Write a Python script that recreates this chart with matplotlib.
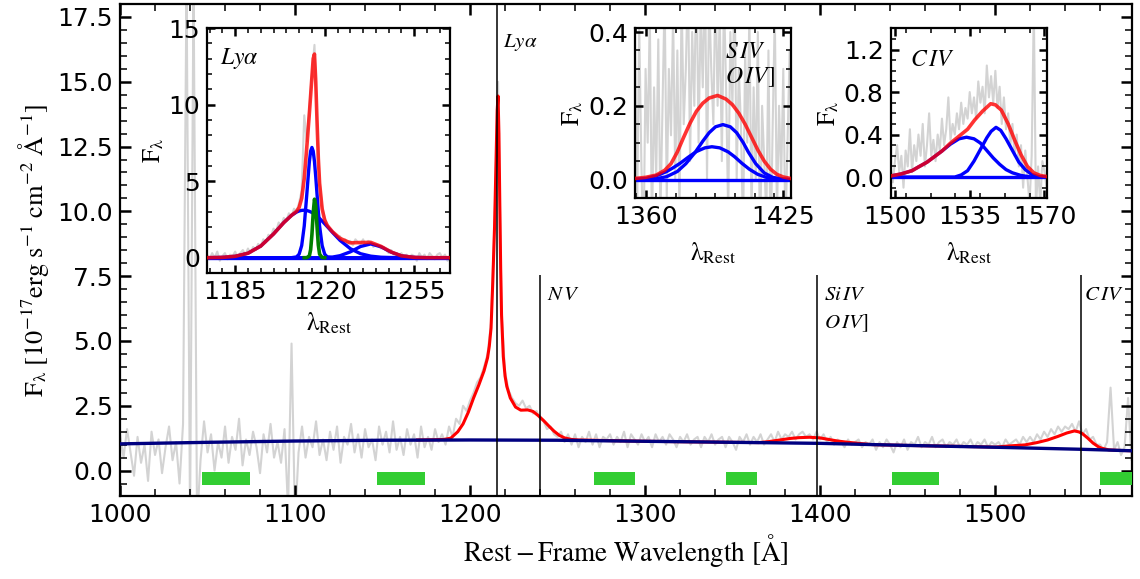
import numpy as np
import matplotlib
matplotlib.use("Agg")
import matplotlib.pyplot as plt
from matplotlib.ticker import MultipleLocator

plt.rcParams['mathtext.fontset'] = 'stix'
plt.rcParams['font.family'] = ['DejaVu Sans']

# ---------------- main spectrum (2 A sampling, 1000-1580 A) ----------------
spec_start, spec_step = 1000.0, 2.0
spec_flux = [
    1.4, 0.5, 1.6, 0.7, -0.2, 1.3, 0.3, 1.0, -0.4, 1.5,
    0.6, 1.2, -0.1, 0.9, 1.7, 0.4, 1.1, -0.5, 1.8, 19.0,
    -2.0, 19.0, -2.0, 0.4, 1.9, 0.7, 1.4, 0.0, 1.1, 0.5,
    1.7, 0.3, 1.3, 0.8, 2.0, 0.2, 1.2, 0.6, 1.5, 0.9,
    -0.1, 1.4, 0.7, 1.8, 0.5, 1.1, 0.3, 1.6, -1.5, 4.9,
    -2.0, 0.7, 1.7, 0.5, 1.3, 0.9, 1.9, 0.6, 1.2, 0.4,
    1.5, 0.8, 1.7, 0.3, 1.3, 1.0, 1.8, 0.7, 1.4, 0.5,
    1.6, 0.9, 1.2, 0.4, 1.7, 1.0, 1.5, 0.7, 1.9, 0.8,
    1.3, 0.6, 1.6, 1.0, 1.4, 0.5, 1.7, 0.9, 1.3, 0.8,
    1.6, 1.1, 1.4, 1.0, 1.7, 1.3, 2.0, 1.8, 2.5, 2.3,
    2.7, 3.0, 3.4, 3.6, 4.0, 4.5, 5.7, 9.6, 15.0, 6.1,
    3.8, 3.1, 2.8, 2.6, 2.5, 2.7, 2.4, 2.5, 2.2, 2.3,
    2.0, 1.9, 1.6, 1.7, 1.4, 1.3, 1.5, 1.1, 1.4, 1.0,
    1.4, 0.9, 1.3, 1.1, 1.5, 1.0, 1.4, 0.9, 1.3, 1.2,
    1.4, 1.0, 1.3, 1.1, 1.5, 0.9, 1.4, 1.2, 1.0, 1.4,
    1.1, 1.3, 0.9, 1.4, 1.1, 1.3, 1.0, 1.4, 1.2, 0.9,
    1.3, 1.1, 1.4, 1.0, 1.2, 1.3, 0.9, 1.3, 1.1, 1.4,
    1.0, 1.2, 1.3, 0.9, 1.3, 1.1, 0.8, 1.3, 1.1, 1.4,
    1.0, 1.3, 1.1, 1.4, 1.0, 1.2, 1.4, 1.1, 1.5, 1.2,
    1.4, 1.3, 1.5, 1.2, 1.4, 1.5, 1.3, 1.4, 1.2, 1.5,
    1.2, 1.4, 1.1, 1.3, 1.0, 1.2, 1.1, 0.9, 1.2, 1.0,
    1.1, 1.2, 0.9, 1.1, 1.0, 1.2, 0.8, 1.1, 0.9, 1.2,
    1.0, 0.7, 1.1, 0.9, 1.2, 0.8, 1.1, 1.0, 1.3, 0.9,
    1.1, 1.0, 1.3, 0.9, 1.1, 1.2, 0.9, 1.1, 1.0, 1.2,
    0.9, 1.1, 1.0, 1.2, 0.9, 1.1, 1.0, 1.2, 0.9, 1.1,
    1.0, 1.1, 0.9, 1.2, 1.0, 1.1, 1.2, 1.0, 1.3, 1.1,
    1.3, 1.1, 1.4, 1.2, 1.5, 1.3, 1.6, 1.4, 1.7, 1.5,
    1.7, 1.6, 1.8, 1.5, 1.9, 1.4, 1.6, 1.2, 1.3, 1.0,
    1.0, 0.8, 1.1, 3.2, 0.8, 1.1, 0.6, 0.9, 2.8, 0.4,
    0.6,
]

# power-law continuum
cont_wave = [1000, 1050, 1100, 1150, 1200, 1250, 1300, 1350, 1400, 1450, 1500, 1550, 1580]
cont_flux = [1.03, 1.09, 1.14, 1.17, 1.18, 1.17, 1.13, 1.09, 1.05, 0.97, 0.90, 0.82, 0.76]

# total model (continuum + emission lines)
model_wave = [1170, 1180, 1185, 1189, 1193, 1196, 1199, 1202, 1205, 1208, 1210, 1211, 1212,
              1213, 1214, 1214.5, 1215, 1215.5, 1216, 1216.5, 1217, 1217.5, 1218, 1219, 1220,
              1221, 1223, 1226, 1229, 1233, 1236, 1239, 1242, 1245, 1248, 1251, 1254, 1258,
              1262, 1300, 1350, 1365, 1371, 1377, 1383, 1388, 1394, 1400, 1405, 1410, 1416,
              1422, 1430, 1450, 1490, 1500, 1508, 1517, 1524, 1530, 1536, 1541, 1545.4, 1548,
              1550, 1553, 1556, 1559, 1561, 1565, 1570, 1580]
model_flux = [1.18, 1.19, 1.20, 1.25, 1.50, 1.80, 2.25, 2.80, 3.30, 3.85, 4.35, 4.80, 5.50,
              7.30, 9.40, 10.9, 12.4, 13.9, 14.45, 13.0, 10.3, 7.8, 6.0, 4.4, 3.65,
              3.25, 2.80, 2.45, 2.33, 2.34, 2.28, 2.12, 1.93, 1.72, 1.52, 1.36, 1.26, 1.20,
              1.18, 1.13, 1.09, 1.08, 1.12, 1.18, 1.24, 1.27, 1.285, 1.26, 1.20, 1.14, 1.09,
              1.05, 1.00, 0.97, 0.92, 0.905, 0.95, 0.99, 1.08, 1.18, 1.32, 1.45, 1.53, 1.49,
              1.42, 1.25, 1.06, 0.92, 0.86, 0.80, 0.78, 0.76]

# continuum windows (green bars)
win_start = [1047, 1147, 1271, 1346, 1441, 1560]
win_end = [1074.5, 1174, 1294, 1364, 1468, 1580]

# line markers
line_names = [r'$Ly\alpha$', r'$N\,V$', r'$Si\,IV$', r'$C\,IV$']
line_wave = [1215.67, 1240.14, 1398.0, 1549.06]

# ---------------- Ly-alpha inset ----------------
lya_start = 1174.0
lya_spec = [
    0.2, -0.1, 0.3, 0.0, 0.4, -0.2, 0.1, 0.3, -0.1, 0.2,
    0.1, 0.4, 0.0, 0.3, 0.5, 0.2, 0.6, 0.3, 0.7, 0.5,
    0.9, 0.7, 1.2, 1.0, 1.5, 1.4, 1.9, 1.7, 2.3, 2.1,
    2.6, 2.4, 2.9, 2.7, 3.2, 3.0, 3.6, 4.4, 9.3, 7.6,
    9.8, 12.0, 13.9, 9.0, 5.0, 3.3, 2.6, 2.2, 1.9, 1.7,
    1.5, 1.3, 1.4, 1.1, 1.2, 0.9, 1.1, 0.8, 1.2, 1.0,
    0.9, 1.2, 0.8, 1.1, 1.0, 0.7, 0.9, 0.8, 0.6, 0.7,
    0.5, 0.3, 0.5, 0.2, 0.3, 0.1, 0.3, 0.0, 0.2, -0.1,
    0.2, 0.1, -0.2, 0.3, 0.0, 0.2, -0.1, 0.3, 0.1, -0.1,
    0.2, 0.3, 0.0, 0.2, -0.2, 0.1,
]
lya_wave = [1174, 1180, 1185, 1190, 1195, 1200, 1204, 1207, 1209, 1210, 1211, 1212, 1213,
            1214, 1214.5, 1215, 1215.5, 1216, 1216.5, 1217, 1217.5, 1218, 1219, 1220, 1221,
            1223, 1226, 1230, 1234, 1238, 1242, 1246, 1250, 1255, 1260, 1269]
lya_broad = [0.00, 0.02, 0.09, 0.29, 0.76, 1.55, 2.29, 2.76, 2.98, 3.05, 3.09, 3.10, 3.08,
             3.03, 2.99, 2.95, 2.90, 2.84, 2.78, 2.71, 2.64, 2.56, 2.39, 2.21, 2.03,
             1.66, 1.13, 0.59, 0.26, 0.10, 0.03, 0.01, 0.00, 0.00, 0.00, 0.00]
lya_narrow = [0.00, 0.00, 0.00, 0.00, 0.00, 0.00, 0.00, 0.00, 0.05, 0.23, 0.79, 2.07, 4.14,
              6.27, 6.96, 7.20, 6.96, 6.27, 5.27, 4.14, 3.03, 2.07, 0.79, 0.23, 0.05,
              0.00, 0.00, 0.00, 0.00, 0.00, 0.00, 0.00, 0.00, 0.00, 0.00, 0.00]
lya_nv = [0.00, 0.00, 0.00, 0.00, 0.00, 0.00, 0.00, 0.00, 0.00, 0.00, 0.00, 0.00, 0.00,
          0.00, 0.00, 0.00, 0.00, 0.00, 0.00, 0.00, 0.00, 0.00, 0.00, 0.01, 0.02,
          0.04, 0.13, 0.38, 0.73, 0.90, 0.71, 0.36, 0.12, 0.02, 0.00, 0.00]
lya_total = [0.00, 0.02, 0.09, 0.29, 0.76, 1.55, 2.29, 2.76, 3.03, 3.28, 3.88, 5.17, 7.22,
             9.42, 10.6, 11.8, 13.0, 13.3, 11.5, 8.9, 6.5, 4.86, 3.19, 2.45, 2.10,
             1.70, 1.26, 0.97, 0.99, 1.00, 0.74, 0.37, 0.12, 0.02, 0.00, 0.00]
lya_nar_wave = [1212, 1213, 1214, 1214.5, 1215, 1215.5, 1216, 1216.5, 1217, 1217.5, 1218, 1219, 1220]
lya_nar_flux = [0.00, 0.00, 0.12, 0.52, 1.50, 2.91, 3.82, 3.40, 2.04, 0.83, 0.23, 0.01, 0.00]

# ---------------- Si IV / O IV] inset ----------------
siv_start = 1355.0
siv_spec = [
    0.35, -0.1, 0.42, 0.05, -0.2, 0.3, 0.1, 0.45, -0.15, 0.25,
    0.0, 0.38, -0.1, 0.2, 0.5, -0.05, 0.3, 0.12, 0.45, 0.0,
    0.35, -0.1, 0.5, 0.15, 0.3, 0.55, 0.05, 0.4, 0.2, 0.6,
    0.1, 0.45, 0.25, 0.6, 0.0, 0.5, 0.3, 0.15, 0.55, 0.2,
    0.45, 0.05, 0.5, 0.25, -0.1, 0.4, 0.2, 0.55, 0.0, 0.3,
    0.15, -0.15, 0.35, 0.1, 0.45, -0.1, 0.25, 0.0, 0.4, -0.2,
    0.2, 0.05, -0.1, 0.35, -0.2, 0.15, 0.45, -0.1, 0.2, 0.0,
    0.3, -0.15, 0.1, 0.35,
]
siv_tot_wave = [1355, 1360, 1365, 1369, 1372, 1375, 1378, 1381, 1384, 1387, 1390, 1394, 1398,
                1401, 1404, 1407, 1410, 1413, 1416, 1419, 1422, 1425, 1428.5]
siv_tot_flux = [0.003, 0.006, 0.012, 0.025, 0.043, 0.075, 0.115, 0.153, 0.185, 0.207, 0.221,
                0.228, 0.218, 0.203, 0.180, 0.150, 0.115, 0.080, 0.050, 0.028, 0.014, 0.007, 0.003]
siv_c1_wave = [1355, 1365, 1370, 1375, 1379, 1383.5, 1387, 1390, 1393, 1396.5, 1400, 1403,
               1406, 1408.5, 1412, 1416, 1420, 1425, 1428.5]
siv_c1_flux = [0.0, 0.002, 0.008, 0.022, 0.043, 0.0745, 0.104, 0.127, 0.143, 0.149, 0.143,
               0.127, 0.101, 0.0745, 0.043, 0.018, 0.006, 0.001, 0.0]
siv_c2_wave = [1355, 1360, 1365, 1370, 1373, 1376.4, 1380, 1384, 1388, 1391.3, 1395, 1399,
               1402, 1405.4, 1409, 1413, 1417, 1422, 1428.5]
siv_c2_flux = [0.001, 0.003, 0.010, 0.022, 0.032, 0.0445, 0.060, 0.076, 0.086, 0.089, 0.086,
               0.075, 0.062, 0.0445, 0.028, 0.014, 0.006, 0.002, 0.0]

# ---------------- C IV inset ----------------
civ_start = 1498.0
civ_spec = [
    0.1, -0.05, 0.15, 0.3, 0.05, 0.2, -0.1, 0.25, 0.1, 0.45,
    0.05, 0.3, 0.15, 0.4, 0.2, 0.5, 0.1, 0.3, 0.6, 0.2,
    0.35, 0.15, 0.4, 0.25, 0.55, 0.3, 0.45, 0.75, 0.35, 0.5,
    0.4, 0.6, 0.45, 0.7, 0.5, 0.65, 0.55, 0.8, 0.6, 0.75,
    0.55, 0.9, 0.7, 0.85, 0.6, 1.05, 0.75, 0.95, 0.7, 1.0,
    0.65, 0.85, 0.5, 0.75, 0.45, 0.6, 0.3, 0.5, 0.2, 0.4,
    0.1, 0.3, -0.1, 0.25, 0.0, -0.25, 0.2, 1.6, -0.3, 0.1,
    -0.25, 0.15, 0.05, -0.1,
]
civ_tot_wave = [1498, 1503, 1508, 1511, 1515, 1519, 1522, 1526, 1530, 1534, 1537.3, 1541,
                1544.8, 1547, 1549.8, 1553, 1556, 1559, 1562, 1565, 1568, 1571]
civ_tot_flux = [0.01, 0.03, 0.06, 0.095, 0.14, 0.20, 0.245, 0.32, 0.385, 0.45, 0.537, 0.62,
                0.69, 0.68, 0.63, 0.50, 0.35, 0.21, 0.10, 0.04, 0.015, 0.005]
civ_c1_wave = [1498, 1503, 1508, 1511, 1515, 1519, 1522, 1526, 1530, 1533.5, 1537, 1540,
               1543, 1546, 1549, 1552, 1555, 1559, 1564, 1571]
civ_c1_flux = [0.01, 0.03, 0.06, 0.095, 0.14, 0.20, 0.245, 0.31, 0.36, 0.375, 0.36, 0.32,
               0.25, 0.18, 0.12, 0.07, 0.04, 0.015, 0.0, 0.0]
civ_c2_wave = [1498, 1528, 1531, 1534, 1537, 1540, 1543, 1545, 1547.3, 1549.5, 1552, 1555,
               1558, 1561, 1564, 1567, 1571]
civ_c2_flux = [0.0, 0.0, 0.02, 0.06, 0.15, 0.26, 0.37, 0.43, 0.468, 0.44, 0.36, 0.25,
               0.14, 0.07, 0.025, 0.005, 0.0]


def style_axes(a, fs=18, maj_len=7.0, min_len=4.0):
    a.tick_params(which='both', direction='in', top=True, right=True, labelsize=fs)
    a.tick_params(which='major', length=maj_len, width=1.8, pad=5)
    a.tick_params(which='minor', length=min_len, width=1.1)
    for s in a.spines.values():
        s.set_linewidth(1.6)


fig = plt.figure(figsize=(11.4, 5.79), dpi=100)
ax = fig.add_axes([0.1053, 0.1425, 0.8873, 0.8506])

spec_wave = spec_start + spec_step * np.arange(len(spec_flux))
ax.plot(spec_wave, spec_flux, color='lightgray', lw=1.5, zorder=1)
ax.plot(model_wave, model_flux, color='red', lw=2.2, zorder=2)
ax.plot(cont_wave, cont_flux, color='navy', lw=2.4, zorder=3)

bars = [(s, e - s) for s, e in zip(win_start, win_end)]
ax.broken_barh(bars, (-0.57, 0.5), facecolor='limegreen', edgecolor='none', zorder=3)

ax.axvline(line_wave[0], color='k', lw=1.1, zorder=4)
ax.vlines(line_wave[1:], -1, 7.55, color='k', lw=1.1, zorder=4)
tfs = 15
ax.text(line_wave[0] + 3.0, 16.5, line_names[0], fontsize=tfs, va='center', ha='left')
ax.text(line_wave[1] + 4.0, 6.8, line_names[1], fontsize=tfs, va='center', ha='left')
ax.text(line_wave[2] + 4.0, 6.8, line_names[2], fontsize=tfs, va='center', ha='left')
ax.text(line_wave[2] + 4.0, 5.68, r'$O\,IV]$', fontsize=tfs, va='center', ha='left')
ax.text(line_wave[3] + 2.0, 6.8, line_names[3], fontsize=tfs, va='center', ha='left')

ax.set_xlim(1000, 1578)
ax.set_ylim(-1, 18)
ax.xaxis.set_major_locator(MultipleLocator(100))
ax.xaxis.set_minor_locator(MultipleLocator(20))
ax.yaxis.set_major_locator(MultipleLocator(2.5))
ax.yaxis.set_minor_locator(MultipleLocator(0.5))
style_axes(ax, maj_len=8, min_len=5)
ax.set_xlabel(r'$\mathrm{Rest-Frame\ Wavelength\ [\AA]}$', fontsize=19.5, labelpad=3)
ax.set_ylabel(r'$\mathrm{F_{\lambda}\ [10^{-17}erg\ s^{-1}\ cm^{-2}\ \AA^{-1}]}$', fontsize=19, labelpad=5)

blue_lw = 2.4

# ---- inset 1: Ly alpha ----
a1 = fig.add_axes([0.1816, 0.5285, 0.2132, 0.4231])
a1.plot(lya_start + np.arange(len(lya_spec)), lya_spec, color='lightgray', lw=1.5, zorder=1)
a1.axhline(0, color='blue', lw=blue_lw, zorder=2)
a1.plot(lya_wave, lya_broad, color='blue', lw=blue_lw, zorder=2)
a1.plot(lya_wave, lya_narrow, color='blue', lw=blue_lw, zorder=2)
a1.plot(lya_wave, lya_nv, color='blue', lw=blue_lw, zorder=2)
a1.plot(lya_nar_wave, lya_nar_flux, color='green', lw=2.6, zorder=3)
a1.plot(lya_wave, lya_total, color='red', lw=2.6, alpha=0.8, zorder=4)
a1.set_xlim(1174, 1269)
a1.set_ylim(-1, 15)
a1.xaxis.set_minor_locator(MultipleLocator(5))
a1.yaxis.set_major_locator(MultipleLocator(5))
a1.yaxis.set_minor_locator(MultipleLocator(1))
a1.set_xticks([1185, 1220, 1255])
style_axes(a1, maj_len=6, min_len=3.5)
a1.text(0.055, 0.875, r'$Ly\alpha$', transform=a1.transAxes, fontsize=17, va='center', ha='left')
a1.set_xlabel(r'$\mathrm{\lambda_{Rest}}$', fontsize=18, labelpad=5)
a1.set_ylabel(r'$\mathrm{F_{\lambda}}$', fontsize=18, labelpad=2)

# ---- inset 2: Si IV / O IV] ----
a2 = fig.add_axes([0.557, 0.658, 0.1366, 0.2931])
a2.plot(siv_start + np.arange(len(siv_spec)), siv_spec, color='lightgray', lw=1.5, zorder=1)
a2.axhline(0, color='blue', lw=blue_lw, zorder=2)
a2.plot(siv_c1_wave, siv_c1_flux, color='blue', lw=blue_lw, zorder=2)
a2.plot(siv_c2_wave, siv_c2_flux, color='blue', lw=blue_lw, zorder=2)
a2.plot(siv_tot_wave, siv_tot_flux, color='red', lw=2.6, alpha=0.8, zorder=4)
a2.set_xlim(1355, 1428.5)
a2.set_ylim(-0.05, 0.41)
a2.set_xticks([1360, 1425])
a2.xaxis.set_minor_locator(MultipleLocator(65 / 7))
a2.yaxis.set_major_locator(MultipleLocator(0.2))
a2.yaxis.set_minor_locator(MultipleLocator(0.05))
style_axes(a2, maj_len=6, min_len=3.5)
a2.text(0.578, 0.866, r'$S\,IV$', transform=a2.transAxes, fontsize=17, va='center', ha='left')
a2.text(0.578, 0.716, r'$O\,IV]$', transform=a2.transAxes, fontsize=17, va='center', ha='left')
a2.set_xlabel(r'$\mathrm{\lambda_{Rest}}$', fontsize=18, labelpad=8)
a2.set_ylabel(r'$\mathrm{F_{\lambda}}$', fontsize=18, labelpad=2)

# ---- inset 3: C IV ----
a3 = fig.add_axes([0.7813, 0.6575, 0.1368, 0.2936])
a3.plot(civ_start + np.arange(len(civ_spec)), civ_spec, color='lightgray', lw=1.5, zorder=1)
a3.axhline(0, color='blue', lw=blue_lw, zorder=2)
a3.plot(civ_c1_wave, civ_c1_flux, color='blue', lw=blue_lw, zorder=2)
a3.plot(civ_c2_wave, civ_c2_flux, color='blue', lw=blue_lw, zorder=2)
a3.plot(civ_tot_wave, civ_tot_flux, color='red', lw=2.6, alpha=0.8, zorder=4)
a3.set_xlim(1498, 1571)
a3.set_ylim(-0.2, 1.4)
a3.set_xticks([1500, 1535, 1570])
a3.xaxis.set_minor_locator(MultipleLocator(35 / 3))
a3.yaxis.set_major_locator(MultipleLocator(0.4))
a3.yaxis.set_minor_locator(MultipleLocator(0.1))
style_axes(a3, maj_len=6, min_len=3.5)
a3.text(0.124, 0.819, r'$C\,IV$', transform=a3.transAxes, fontsize=17, va='center', ha='left')
a3.set_xlabel(r'$\mathrm{\lambda_{Rest}}$', fontsize=18, labelpad=8)
a3.set_ylabel(r'$\mathrm{F_{\lambda}}$', fontsize=18, labelpad=2)

fig.savefig('out.png', dpi=100)
